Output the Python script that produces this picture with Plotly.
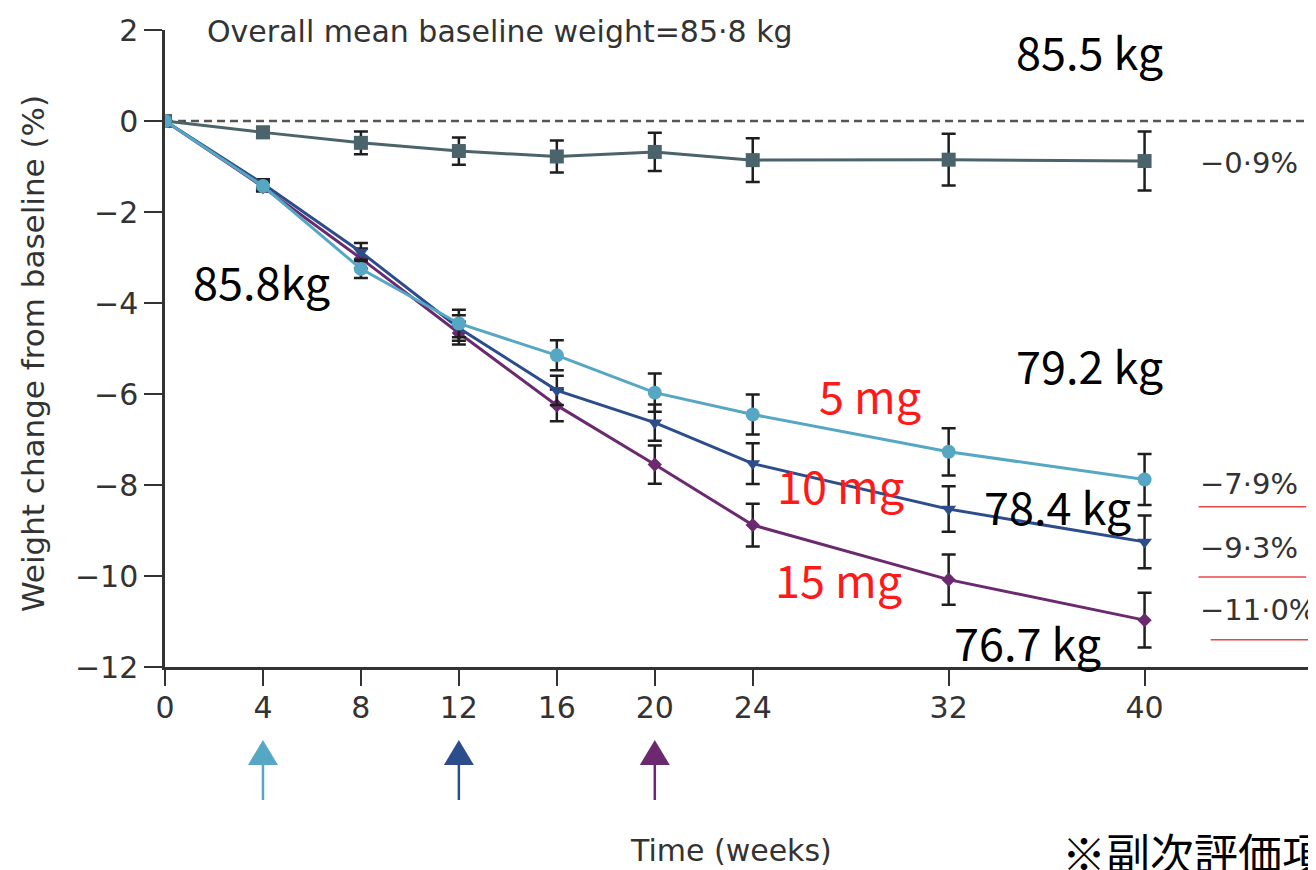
import plotly.graph_objects as go

# ---------------- data ----------------
weeks = [0, 4, 8, 12, 16, 20, 24, 32, 40]
placebo = [0, -0.25, -0.48, -0.66, -0.78, -0.68, -0.86, -0.85, -0.88]
placebo_err = [0, 0.12, 0.25, 0.30, 0.35, 0.42, 0.48, 0.57, 0.65]
mg5 = [0, -1.43, -3.25, -4.45, -5.15, -5.97, -6.45, -7.27, -7.88]
mg5_err = [0, 0.10, 0.20, 0.30, 0.33, 0.42, 0.44, 0.52, 0.56]
mg10 = [0, -1.38, -2.88, -4.55, -5.92, -6.63, -7.53, -8.53, -9.25]
mg10_err = [0, 0.10, 0.20, 0.28, 0.32, 0.40, 0.45, 0.50, 0.58]
mg15 = [0, -1.45, -3.02, -4.66, -6.25, -7.55, -8.88, -10.08, -10.97]
mg15_err = [0, 0.10, 0.22, 0.25, 0.35, 0.42, 0.47, 0.55, 0.60]

escalation_weeks = [4, 12, 20]
y_ticks = [2, 0, -2, -4, -6, -8, -10, -12]
end_labels = ["−0·9%", "−7·9%", "−9·3%", "−11·0%"]
end_values = [-0.92, -7.98, -9.38, -10.75]

C_PLA = "#4b636b"
C_5 = "#55a7c4"
C_10 = "#2c4d8c"
C_15 = "#6b2a6f"
ERR = "#1e1e1e"

# page geometry (the page body has an 8px margin)
W, H = 1308, 862
ML, MT, MB = 157, 22, 203
PLOT_W, PLOT_H = W - ML, H - MT - MB
X_MAX = 47


def py(page_y):
    """page pixel y -> paper y"""
    return (MT + PLOT_H - (page_y - 8)) / PLOT_H


def px(page_x):
    """page pixel x -> paper x"""
    return (page_x - 8 - ML) / PLOT_W


fig = go.Figure()


def add_series(y, err, color, symbol, size):
    fig.add_trace(go.Scatter(
        x=weeks, y=y, mode="lines+markers",
        line=dict(color=color, width=3),
        marker=dict(symbol=symbol, size=size, color=color, line=dict(width=0)),
        error_y=dict(type="data", array=err, visible=True, color=ERR,
                     thickness=2.5, width=7),
        showlegend=False, hoverinfo="skip"))


add_series(placebo, placebo_err, C_PLA, "square", 14)
add_series(mg15, mg15_err, C_15, "diamond", 11)
add_series(mg10, mg10_err, C_10, "triangle-down", 13)
add_series(mg5, mg5_err, C_5, "circle", 14)

shapes = []
ann = []

# dose-escalation arrows below the x axis
half_w = 15 * X_MAX / PLOT_W  # half width of head in weeks
tip, base, tail = py(740), py(765), py(800)
for wk, col in zip(escalation_weeks, [C_5, C_10, C_15]):
    shapes.append(dict(type="path", xref="x", yref="paper",
                       path=f"M{wk - half_w},{base} L{wk + half_w},{base} L{wk},{tip} Z",
                       fillcolor=col, line=dict(width=0)))
    shapes.append(dict(type="line", xref="x", yref="paper", x0=wk, x1=wk, y0=base, y1=tail,
                       line=dict(color=col, width=2.5)))

SANS = "DejaVu Sans, sans-serif"
TICKF = dict(family=SANS, size=30, color="#333")
CJK = "Noto Sans CJK JP"

# header text
ann.append(dict(x=px(205), y=py(31), xref="paper", yref="paper",
                text="Overall mean baseline weight=85·8 kg",
                showarrow=False, xanchor="left", yanchor="middle",
                font=dict(family=SANS, size=30, color="#333")))

# black weight labels
for txt, x, y in [("85.5 kg", 37.75, 1.55), ("85.8kg", 3.95, -3.5), ("79.2 kg", 37.75, -5.35),
                  ("78.4 kg", 36.45, -8.45), ("76.7 kg", 35.2, -11.45)]:
    ann.append(dict(x=x, y=y, xref="x", yref="y", text=txt, showarrow=False,
                    font=dict(family=CJK, size=45, color="black")))

# red dose labels
for txt, x, y in [("5 mg", 28.8, -6.02), ("10 mg", 27.6, -7.98), ("15 mg", 27.5, -10.05)]:
    ann.append(dict(x=x, y=y, xref="x", yref="y", text=txt, showarrow=False,
                    font=dict(family=CJK, size=45, color="#ff1a1a")))

# end-of-study percent labels
for txt, v in zip(end_labels, end_values):
    ann.append(dict(x=42.2, y=v, xref="x", yref="y", text=txt, showarrow=False,
                    xanchor="left", yanchor="middle", font=dict(family=SANS, size=29, color="#333")))

# axis titles
ann.append(dict(x=px(731), xref="paper", y=py(850), yref="paper", text="Time (weeks)",
                showarrow=False, yanchor="middle",
                font=dict(family=SANS, size=30, color="#333")))
ann.append(dict(x=px(33), xref="paper", y=py(354), yref="paper", text="Weight change from baseline (%)",
                textangle=-90, showarrow=False, xanchor="center", yanchor="middle",
                font=dict(family=SANS, size=31, color="#333")))

# Japanese footnote (cut off at the right edge, as in the source)
ann.append(dict(x=px(1060), xref="paper", y=py(852), yref="paper", text="※副次評価項目",
                showarrow=False, xanchor="left", yanchor="middle",
                font=dict(family=CJK, size=44, color="black")))

shapes += [
    dict(type="line", xref="x", yref="y", x0=0, x1=X_MAX, y0=0, y1=0,
         line=dict(color="#555", width=2.5, dash="8px,5px"), layer="below"),
    dict(type="line", xref="x", yref="y", x0=42.2, x1=46.6, y0=-8.48, y1=-8.48,
         line=dict(color="#e8474a", width=1.5)),
    dict(type="line", xref="x", yref="y", x0=42.2, x1=46.6, y0=-10.02, y1=-10.02,
         line=dict(color="#e8474a", width=1.5)),
    dict(type="line", xref="x", yref="y", x0=42.7, x1=X_MAX, y0=-11.4, y1=-11.4,
         line=dict(color="#e8474a", width=1.5)),
]

fig.update_layout(
    width=W, height=H,
    margin=dict(l=ML, r=0, t=MT, b=MB),
    paper_bgcolor="white", plot_bgcolor="white",
    annotations=ann, shapes=shapes,
    xaxis=dict(range=[0, X_MAX], tickvals=weeks, ticks="outside", ticklen=16, tickwidth=2,
               tickcolor="#333", showline=True, linewidth=2.5, linecolor="#333",
               showgrid=False, zeroline=False, tickfont=TICKF, ticklabelstandoff=-4),
    yaxis=dict(range=[-12, 2], tickvals=y_ticks, ticks="outside", ticklen=18, tickwidth=2,
               tickcolor="#333", showline=True, linewidth=2.5, linecolor="#333",
               showgrid=False, zeroline=False, tickfont=TICKF),
)

fig.write_html("out.html")
